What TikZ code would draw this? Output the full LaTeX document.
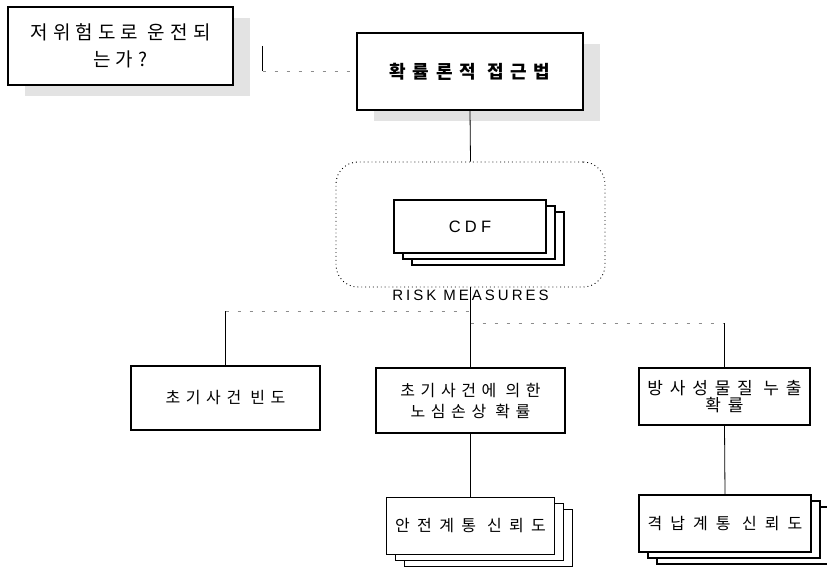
\documentclass[tikz,border=0pt]{standalone}
\usepackage{fontspec}
\setmainfont{Liberation Sans}
\newfontfamily\kr{Noto Sans CJK KR}
\usetikzlibrary{positioning, shadows}

\begin{document}
\begin{tikzpicture}[
    x=1pt, y=-1pt,
    box/.style n args={2}{
        rectangle, draw=black, fill=white, line width=1.2pt,
        minimum width=#1, minimum height=#2,
        align=center, inner sep=2pt
    },
    krtext/.style n args={3}{
        font={\kr\fontsize{#1}{#2}\selectfont\addfontfeatures{LetterSpace=#3}}
    },
    shade/.style={
        drop shadow={shadow xshift=17pt, shadow yshift=-11pt,
                     fill=black!11, opacity=1}
    },
    stack/.style={
        double copy shadow={shadow xshift=9pt, shadow yshift=-6pt,
                            fill=white, draw=black, line width=1.1pt}
    },
    group/.style={
        rectangle, draw=black, line width=0.9pt, dash pattern=on 0.9pt off 3pt,
        rounded corners=22pt, minimum width=269pt, minimum height=125pt
    },
    stem/.style={draw=black, line width=0.8pt},
    bus/.style={draw=black!45, line width=0.8pt, dash pattern=on 3pt off 9pt},
]

\useasboundingbox (0,0) rectangle (827,567);

% ============================================================
% Top row
% ============================================================

\node[box={225pt}{78pt}, shade, krtext={19}{27}{27}] (ask) at (120.5,46)
    {저위험도로 운전되\\는가?};

\node[box={226pt}{77pt}, shade, krtext={18}{22}{38}] (approach) at (470,71.5)
    {\bfseries 확률론적 접근법};

\coordinate (kink) at ([xshift=29pt]ask.east |- approach.west);
\draw[stem] ([xshift=29pt]ask.east) -- (kink);
\draw[bus] (kink) -- (approach.west);

% ============================================================
% Risk measures
% ============================================================

\node[group, label={[font=\fontsize{15}{18}\selectfont\addfontfeatures{LetterSpace=20},
        inner sep=1pt, yshift=-1pt]below:RISK MEASURES}] (measures) at (470.5,224.5) {};

\node[box={152pt}{53pt}, stack,
      font=\fontsize{16.5}{20}\selectfont\addfontfeatures{LetterSpace=25}] (cdf) at (470,226.5)
    {CDF};

\draw[stem] (approach.south) -- (measures.north);

% ============================================================
% Second row
% ============================================================

\node[box={189pt}{65pt}, krtext={16}{21}{35}, below=80pt of measures] (coredmg)
    {초기사건에 의한\\노심손상 확률};

\node[box={189pt}{64pt}, krtext={16}{21}{35}] (initfreq) at (225.5,398)
    {초기사건 빈도};

\node[box={171pt}{57pt}, krtext={17}{17}{40}] (release) at (724.5,396.5)
    {방사성물질 누출\\확률};

\coordinate (busl) at (225,311);
\coordinate (busr) at (724,323);

\draw[stem] (measures.south) -- (coredmg.north);
\draw[stem] (initfreq.north) -- (initfreq.north |- busl);
\draw[bus] (initfreq.north |- busl) -- (measures.south |- busl);
\draw[bus] (measures.south |- busr) -- (release.north |- busr);
\draw[stem] (release.north |- busr) -- (release.north);

% ============================================================
% Third row
% ============================================================

\node[box={168pt}{57pt}, stack, krtext={16}{20}{46}, below=63pt of coredmg] (safety)
    {안전계통 신뢰도};

\node[box={172pt}{57pt}, stack, krtext={16}{20}{50}] (contain) at (725,523.5)
    {격납계통 신뢰도};

\draw[stem] (coredmg.south) -- (safety.north);
\draw[stem] (release.south) -- (contain.north);

\end{tikzpicture}
\end{document}
